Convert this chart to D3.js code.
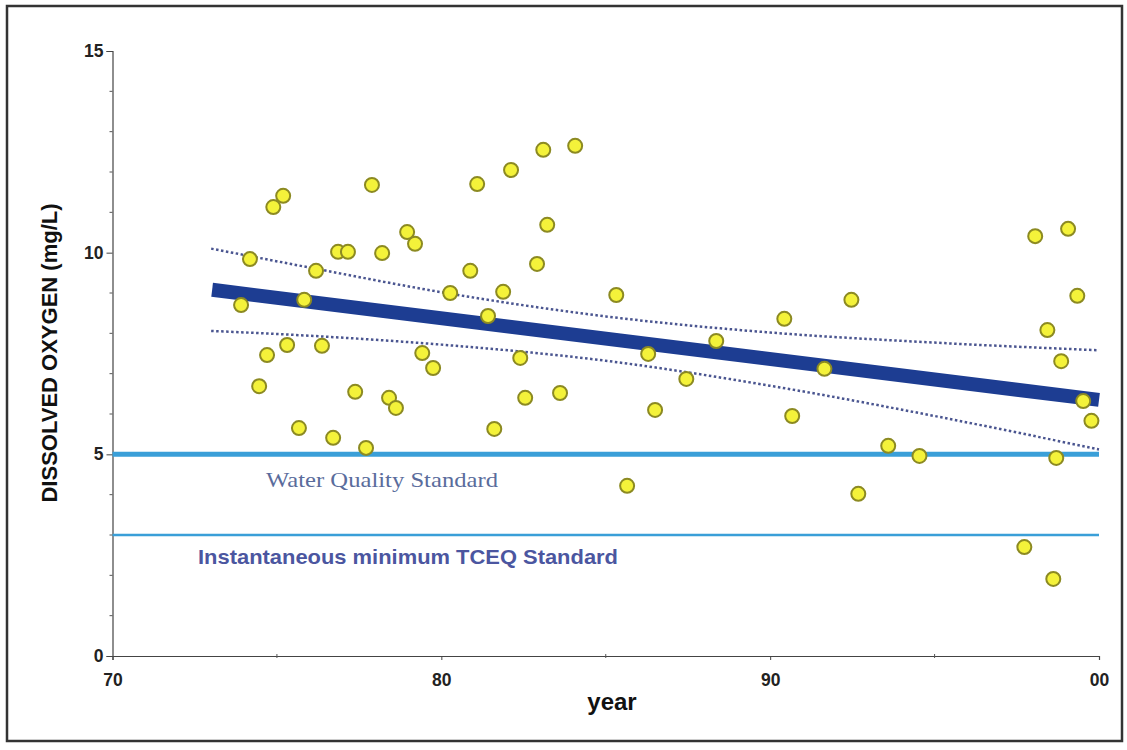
<!DOCTYPE html>
<html>
<head>
<meta charset="utf-8">
<script src="https://cdn.jsdelivr.net/npm/d3@7"></script>
<style>
  html, body { margin: 0; padding: 0; background: #fff; }
  svg { display: block; }
</style>
</head>
<body>
<svg id="chart" width="1127" height="750"></svg>
<script>
// ---- data ----
const years = [73.91,74.18,74.46,74.70,74.89,75.19,75.31,75.67,75.83,76.19,76.37,76.71,76.86,77.16,77.38,77.71,77.89,78.20,78.41,78.62,78.96,79.20,79.42,79.75,80.27,80.88,81.09,81.42,81.61,81.88,82.12,82.40,82.55,82.91,83.10,83.22,83.61,84.07,85.32,85.65,86.29,86.50,87.45,88.36,90.43,90.67,91.65,92.47,92.68,93.59,94.54,97.73,98.06,98.43,98.61,98.70,98.85,99.06,99.34,99.52,99.77];
const oxygen = [8.70,9.84,6.69,7.46,11.13,11.41,7.71,5.65,8.83,9.55,7.69,5.41,10.02,10.02,6.55,5.16,11.68,9.99,6.40,6.15,10.51,10.22,7.51,7.14,9.00,9.55,11.70,8.43,5.63,9.03,12.05,7.39,6.40,9.72,12.55,10.69,6.52,12.65,8.95,4.22,7.49,6.10,6.87,7.81,8.36,5.95,7.12,8.83,4.02,5.21,4.96,2.70,10.41,8.08,1.91,4.91,7.31,10.59,8.93,6.32,5.83];

const trendYears = [73.03, 100];
const trendValues = [9.08, 6.35];

const bandYears = [73, 76, 80, 85, 90, 95, 100];
const bandUpper = [10.10, 9.63, 9.02, 8.42, 8.02, 7.77, 7.58];
const bandLower = [8.06, 7.94, 7.72, 7.32, 6.70, 5.95, 5.12];

const standards = [
  {value: 5, label: "Water Quality Standard"},
  {value: 3, label: "Instantaneous minimum TCEQ Standard"}
];

const xMajorTicks = [70, 80, 90, 100];
const xMinorTicks = [75, 85, 95];
const yMajorTicks = [0, 5, 10, 15];
const yMinorTicks = [1,2,3,4,6,7,8,9,11,12,13,14];

// ---- drawing ----
const svg = d3.select("#chart");
const x = d3.scaleLinear().domain([70, 100]).range([112.5, 1099]);
const y = d3.scaleLinear().domain([0, 15]).range([656, 51]);

// frame
svg.append("rect").attr("x", 7).attr("y", 6).attr("width", 1115).attr("height", 735)
  .attr("fill", "none").attr("stroke", "#333").attr("stroke-width", 2.5);

// axes
const xAxis = d3.axisBottom(x).tickValues(xMajorTicks).tickSize(4).tickPadding(14)
  .tickFormat(d => d === 100 ? "00" : String(d));
const gx = svg.append("g").attr("transform", `translate(0,${y(0)})`).call(xAxis);
gx.append("g").selectAll("line").data(xMinorTicks).join("line")
  .attr("x1", d => x(d)).attr("x2", d => x(d)).attr("y1", -2).attr("y2", 2)
  .attr("stroke", "#555");

const yAxis = d3.axisLeft(y).tickValues(yMajorTicks).tickSize(6).tickPadding(3);
const gy = svg.append("g").attr("transform", `translate(${x(70)},0)`).call(yAxis);
gy.append("g").selectAll("line").data(yMinorTicks).join("line")
  .attr("x1", -3).attr("x2", 0).attr("y1", d => y(d)).attr("y2", d => y(d))
  .attr("stroke", "#555");

svg.selectAll(".domain").attr("stroke", "#444").attr("stroke-width", 1.2);
svg.selectAll(".tick line").attr("stroke", "#444");
svg.selectAll(".tick text").attr("font-family", "Liberation Sans, Arial, sans-serif")
  .attr("font-size", 17.5).attr("font-weight", "bold").attr("fill", "#222");

// axis titles
svg.append("text").attr("x", 612).attr("y", 710).attr("text-anchor", "middle")
  .attr("font-family", "Liberation Sans, Arial, sans-serif").attr("font-size", 24)
  .attr("font-weight", "bold").attr("fill", "#111").text("year");
svg.append("text").attr("transform", "translate(57,353) rotate(-90)").attr("text-anchor", "middle")
  .attr("font-family", "Liberation Sans, Arial, sans-serif").attr("font-size", 22)
  .attr("font-weight", "bold").attr("fill", "#111").text("DISSOLVED OXYGEN (mg/L)");

// standard lines
svg.append("line").attr("x1", x(70)).attr("x2", x(100)).attr("y1", y(standards[0].value)).attr("y2", y(standards[0].value))
  .attr("stroke", "#3a9fd8").attr("stroke-width", 5);
svg.append("line").attr("x1", x(70)).attr("x2", x(100)).attr("y1", y(standards[1].value)).attr("y2", y(standards[1].value))
  .attr("stroke", "#3a9fd8").attr("stroke-width", 2.5);

svg.append("text").attr("x", 382).attr("y", y(standards[0].value) + 33).attr("text-anchor", "middle")
  .attr("font-family", "Liberation Serif, Times New Roman, serif").attr("font-size", 21)
  .attr("textLength", 232).attr("lengthAdjust", "spacingAndGlyphs")
  .attr("fill", "#5a6c9c").text(standards[0].label);
svg.append("text").attr("x", 408).attr("y", y(standards[1].value) + 29).attr("text-anchor", "middle")
  .attr("font-family", "Liberation Sans, Arial, sans-serif").attr("font-size", 21)
  .attr("textLength", 420).attr("lengthAdjust", "spacingAndGlyphs")
  .attr("font-weight", "bold").attr("fill", "#4b56a0").text(standards[1].label);

// confidence band (dotted)
const bandLine = d3.line().curve(d3.curveMonotoneX).x(d => x(d[0])).y(d => y(d[1]));
[bandUpper, bandLower].forEach(arr => {
  svg.append("path").datum(bandYears.map((yr, i) => [yr, arr[i]]))
    .attr("d", bandLine).attr("fill", "none").attr("stroke", "#4a5590")
    .attr("stroke-width", 2.5).attr("stroke-dasharray", "2.5,2.5");
});

// trend line
svg.append("path").datum(trendYears.map((yr, i) => [yr, trendValues[i]]))
  .attr("d", d3.line().x(d => x(d[0])).y(d => y(d[1])))
  .attr("fill", "none").attr("stroke", "#1d3d92").attr("stroke-width", 14);

// points
svg.append("g").selectAll("circle").data(years.map((yr, i) => [yr, oxygen[i]])).join("circle")
  .attr("cx", d => x(d[0])).attr("cy", d => y(d[1])).attr("r", 7)
  .attr("fill", "#f4f23a").attr("stroke", "#8c8a22").attr("stroke-width", 2);
</script>
</body>
</html>
